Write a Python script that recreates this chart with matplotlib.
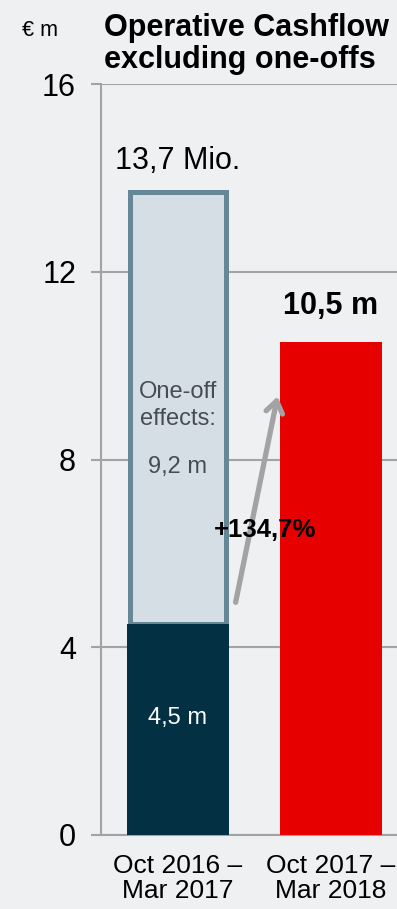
import matplotlib.pyplot as plt
from matplotlib.patches import FancyArrowPatch

plt.rcParams['font.family'] = ['Liberation Sans', 'DejaVu Sans']

periods = ['Oct 2016 –\nMar 2017', 'Oct 2017 –\nMar 2018']
cashflow_excl = [4.5, 10.5]
one_offs = 9.2
total_prev = 13.7
growth = '+134,7%'

bg = '#eff0f2'
grid_c = '#a3a3a3'

fig = plt.figure(figsize=(3.97, 9.09), dpi=100, facecolor=bg)
ax = fig.add_axes([101 / 397, 1 - 835 / 909, 1 - 101 / 397, (835 - 84) / 909])
ax.set_facecolor(bg)

x = [0, 1]
w = 0.667

# one-off effects stacked on top of the previous period
ax.bar(x[0], one_offs, bottom=cashflow_excl[0], width=w - 0.035, color='#d6dee5',
       edgecolor='#668896', linewidth=3.6, zorder=2)
ax.bar(x[0], cashflow_excl[0], width=w, color='#033143', zorder=3)
ax.bar(x[1], cashflow_excl[1], width=w, color='#e60000', zorder=3)

ax.set_xlim(-0.503, 1.431)
ax.set_ylim(0, 16)
ax.set_yticks([0, 4, 8, 12, 16])
ax.set_xticks(x)
ax.set_xticklabels(periods, fontsize=19, linespacing=1.05)
ax.tick_params(axis='x', length=0, pad=14)
ax.tick_params(axis='y', length=7, width=1.5, color=grid_c, labelsize=22, pad=11)
ax.grid(axis='y', color=grid_c, linewidth=1.5, zorder=1)
ax.set_axisbelow(True)
for s in ['top', 'right', 'bottom']:
    ax.spines[s].set_visible(False)
ax.spines['left'].set_color(grid_c)
ax.spines['left'].set_linewidth(1.5)
ax.axhline(0, color=grid_c, linewidth=1.5, zorder=1, clip_on=False)

# labels
ax.text(x[0], total_prev + 0.35, '13,7 Mio.', ha='center', va='bottom', fontsize=22)
ax.text(x[1], cashflow_excl[1] + 0.45, '10,5 m', ha='center', va='bottom',
        fontsize=22, fontweight='bold')
ax.text(x[0], 9.15, 'One-off\neffects:', ha='center', va='center', fontsize=17,
        color='#454c55', linespacing=1.35)
ax.text(x[0], 7.85, '9,2 m', ha='center', va='center', fontsize=17, color='#454c55')
ax.text(x[0], 2.5, '4,5 m', ha='center', va='center', fontsize=17, color='white', zorder=4)

arrow = FancyArrowPatch((0.373, 4.9), (0.654, 9.4), arrowstyle='->,head_length=0.7,head_width=0.5',
                        color='#a3a3a3', linewidth=3.8, zorder=4, mutation_scale=12)
ax.add_patch(arrow)
ax.text(0.57, 6.5, growth, ha='center', va='center', fontsize=18.5, fontweight='bold', zorder=5)

fig.text(40 / 397, 1 - 30 / 909, '€ m', ha='center', va='center', fontsize=15.5)
fig.text(104 / 397, 1 - 44 / 909, 'Operative Cashflow\nexcluding one-offs', ha='left',
         va='center', fontsize=22, fontweight='bold', linespacing=1.05)

fig.savefig('out.png', dpi=100, facecolor=bg)
